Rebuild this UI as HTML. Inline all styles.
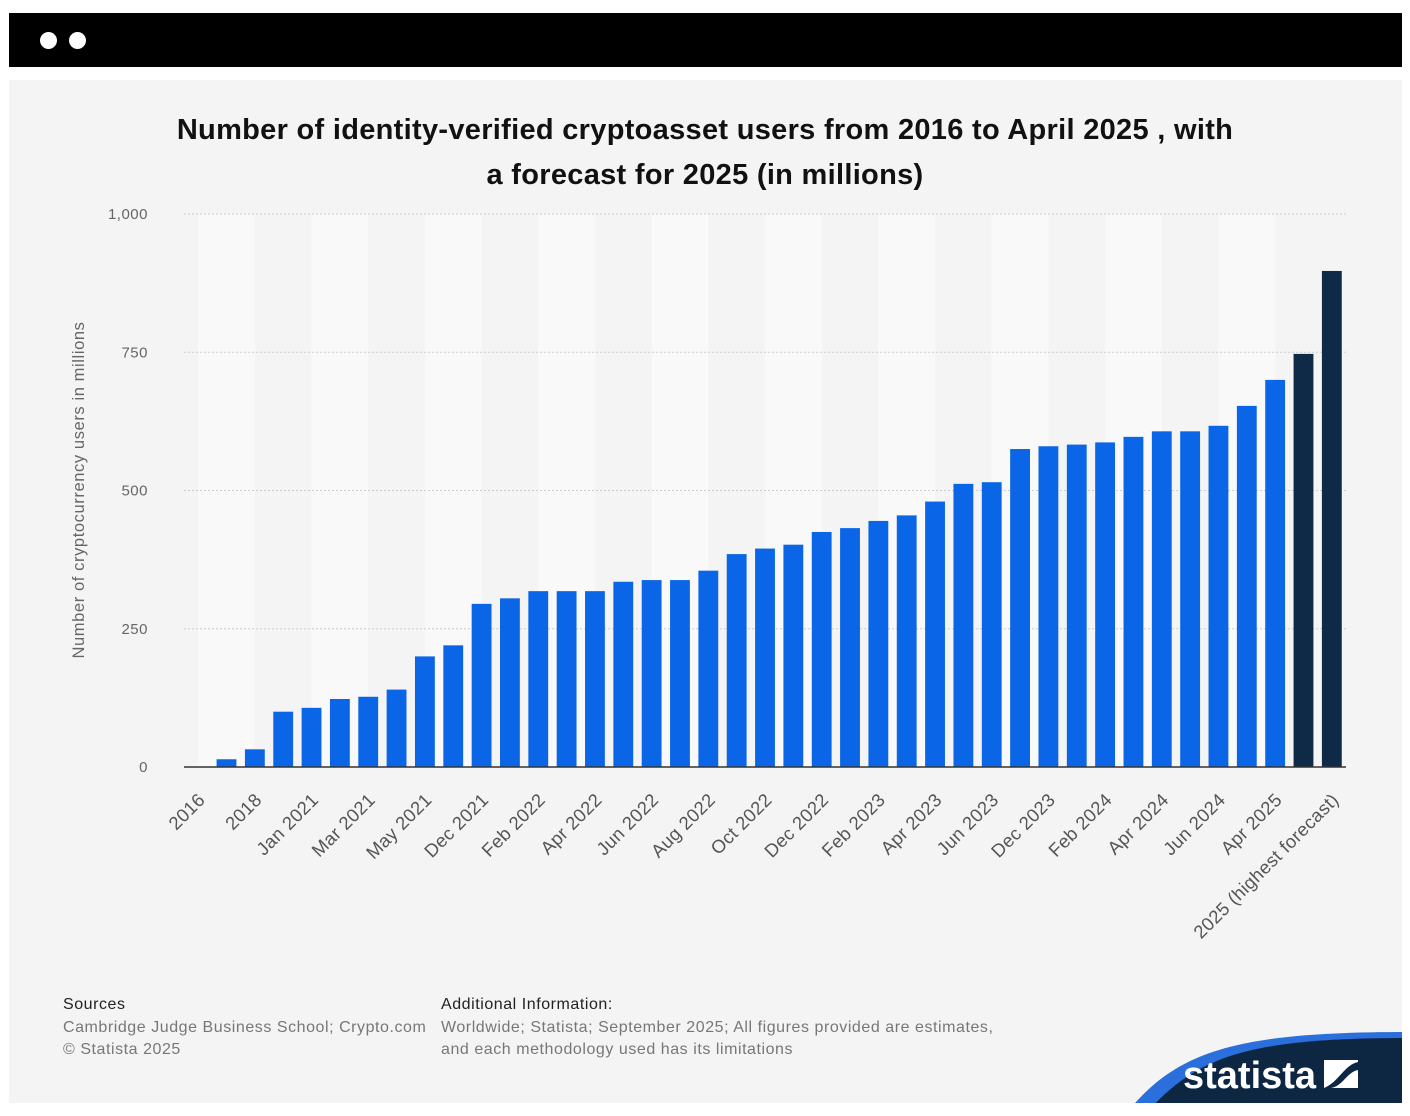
<!DOCTYPE html>
<html><head><meta charset="utf-8"><style>
body{margin:0;width:1410px;height:1116px;background:#fff;font-family:"Liberation Sans",sans-serif;position:relative;overflow:hidden}
.top{position:absolute;left:9px;top:13px;width:1393px;height:54px;background:#000}
.dot{position:absolute;top:32px;width:17px;height:17px;border-radius:50%;background:#fff}
.panel{position:absolute;left:9px;top:80px;width:1393px;height:1023px;background:#f4f4f4;overflow:hidden}
.title{position:absolute;left:0;top:28px;width:1410px;text-align:center;font-size:29px;letter-spacing:0.3px;font-weight:bold;color:#111;line-height:45px}
.src{position:absolute;font-size:16px;letter-spacing:0.55px;color:#777;line-height:22.5px}
.src b{font-weight:normal;color:#222}
</style></head><body>
<div class="top"></div>
<div class="dot" style="left:40px"></div>
<div class="dot" style="left:69px"></div>
<div class="panel">
<div class="title" style="left:-9px">Number of identity-verified cryptoasset users from 2016 to April 2025 , with<br>a forecast for 2025 (in millions)</div>
<div class="src" style="left:54px;top:914px"><b>Sources</b><br>Cambridge Judge Business School; Crypto.com<br>© Statista 2025</div>
<div class="src" style="left:432px;top:914px"><b>Additional Information:</b><br>Worldwide; Statista; September 2025; All figures provided are estimates,<br>and each methodology used has its limitations</div>
<svg style="position:absolute;left:1060px;top:940px" width="340" height="90">
<path d="M60,90 C110,30 170,12 340,12 L340,90 Z" fill="#2a6fdb"/>
<path d="M80,90 C130,36 180,18 340,18 L340,90 Z" fill="#0d2742"/>
<text x="114" y="68" font-size="38" font-weight="bold" fill="#fff" font-family="Liberation Sans Narrow, Liberation Sans, sans-serif">statista</text>
<rect x="255" y="40" width="34" height="28" fill="#fff"/>
<path d="M255,68 C270,62 275,45 289,42 L289,50 C278,52 274,66 262,68 Z" fill="#0d2742"/>
</svg>
</div>
<svg id="chart" style="position:absolute;left:0;top:0" width="1410" height="1116"></svg>
<script>
const categories=["2016","2017","2018","Dec 2020","Jan 2021","Feb 2021","Mar 2021","Apr 2021","May 2021","Jun 2021","Dec 2021","Jan 2022","Feb 2022","Mar 2022","Apr 2022","May 2022","Jun 2022","Jul 2022","Aug 2022","Sep 2022","Oct 2022","Nov 2022","Dec 2022","Jan 2023","Feb 2023","Mar 2023","Apr 2023","May 2023","Jun 2023","Jul 2023","Dec 2023","Jan 2024","Feb 2024","Mar 2024","Apr 2024","May 2024","Jun 2024","Dec 2024","Apr 2025","2025 (forecast)","2025 (highest forecast)"];
const values=[0,14,32,100,107,123,127,140,200,220,295,305,318,318,318,335,338,338,355,385,395,402,425,432,445,455,480,512,515,575,580,583,587,597,607,607,617,653,700,747,897];
const forecastFlags=[0,0,0,0,0,0,0,0,0,0,0,0,0,0,0,0,0,0,0,0,0,0,0,0,0,0,0,0,0,0,0,0,0,0,0,0,0,0,0,1,1];
const yTicks=[0,250,500,750,1000];
const yTickLabels=["0","250","500","750","1,000"];
const ns="http://www.w3.org/2000/svg";
const svg=document.getElementById('chart');
const x0=184,x1=1346,yb=767,yt=214,ymax=1000;
const band=(x1-x0)/categories.length;
const xs=i=>x0+band*i+band/2;
const ys=v=>yb-(v/ymax)*(yb-yt);
function mk(t,a){const e=document.createElementNS(ns,t);for(const k in a)e.setAttribute(k,a[k]);svg.appendChild(e);return e;}
for(let i=0;i<categories.length-1;i+=4){
 const s=mk('rect',{x:xs(i),y:yt,width:band*2,height:yb-yt,fill:'#f9f9f9'});
 
 
}
yTicks.forEach((t,i)=>{
 const y=ys(t);
 if(t>0){const g=mk('line',{x1:x0,x2:x1,y1:y,y2:y,stroke:'#ccc','stroke-dasharray':'2,2'});
 
 }
 const l=mk('text',{x:148,y:y+5,'text-anchor':'end','font-size':15,'letter-spacing':0.5,fill:'#666','font-family':'Liberation Sans, sans-serif'});
 l.textContent=yTickLabels[i];
 
 
});
values.forEach((v,i)=>{
 const w=band*0.7;
 const r=mk('rect',{x:xs(i)-w/2,y:ys(v),width:w,height:yb-ys(v),fill:forecastFlags[i]?'#0f2a47':'#0a66e6'});
 
 
});
const ax=mk('line',{x1:x0,x2:x1,y1:yb,y2:yb,stroke:'#333','stroke-width':1.5});


categories.forEach((c,i)=>{
 if(i%2)return;
 const x=xs(i)+8,y=yb+34;
 const t=mk('text',{x:x,y:y,'text-anchor':'end','font-size':18.5,'letter-spacing':0.3,fill:'#555',transform:`rotate(-45 ${x} ${y})`,'font-family':'Liberation Sans, sans-serif'});
 t.textContent=c;
 
 
});
const yt2=mk('text',{x:84,y:490,'text-anchor':'middle','font-size':16.5,'letter-spacing':0.6,fill:'#666',transform:'rotate(-90 84 490)','font-family':'Liberation Sans, sans-serif'});
yt2.textContent='Number of cryptocurrency users in millions';


</script>
</body></html>
